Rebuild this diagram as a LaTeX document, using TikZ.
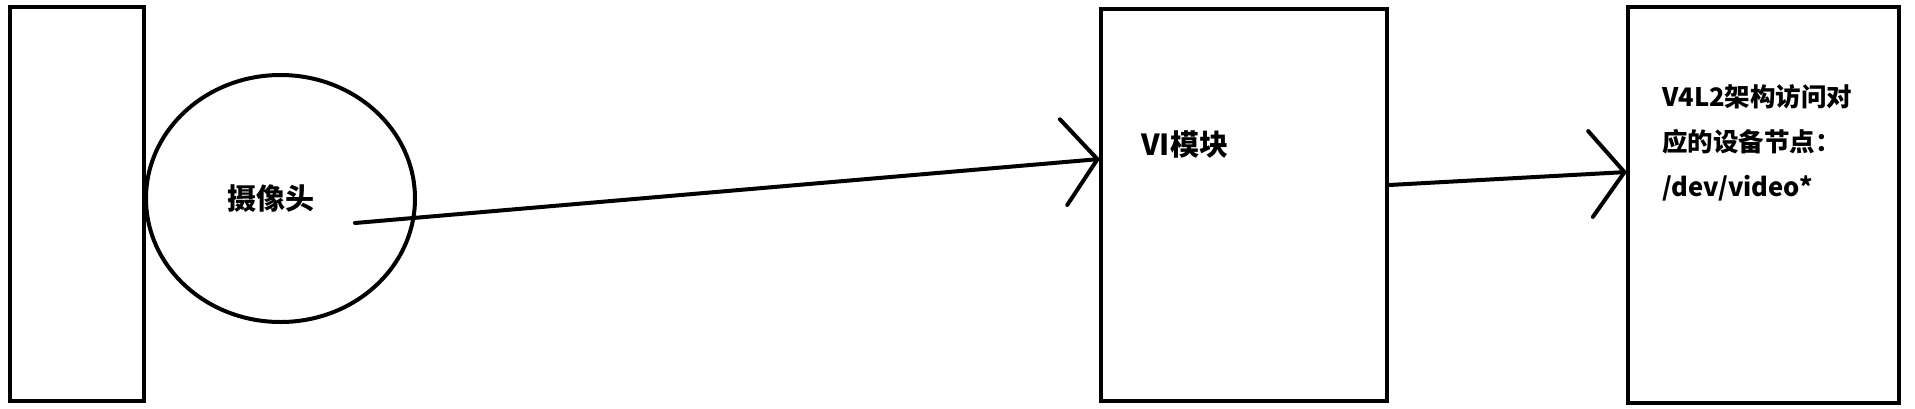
\documentclass[tikz,border=0pt]{standalone}
\usepackage{fontspec}
\setmainfont{Noto Sans CJK SC}
\usetikzlibrary{arrows.meta,shapes.geometric}
\tikzset{
  box/.style={draw, line width=4pt, inner sep=0pt},
  lbl/.style={inner sep=0pt, font=\bfseries\fontsize{29}{34}\selectfont},
  conn/.style={line width=4pt, line cap=round, -{Straight Barb[length=34pt,width=86pt,line cap=round]}},
}
\begin{document}
\begin{tikzpicture}[x=1pt,y=-1pt]
\useasboundingbox (0,0) rectangle (1915,408);
\fill[white] (0,0) rectangle (1915,408);
% left rectangle
\node[box, minimum width=134pt, minimum height=394pt] (lbox) at (77,204) {};
% camera ellipse
\node[box, ellipse, minimum width=269pt, minimum height=247pt] (cam) at (280.5,198.5) {};
\node[lbl] (camtxt) at (271,199) {摄像头};
% VI module box
\node[box, minimum width=286pt, minimum height=392pt] (vi) at (1244,205) {};
\node[lbl, anchor=west] (vitxt) at (1141,145) {VI模块};
% V4L2 box
\node[box, minimum width=271pt, minimum height=396pt] (v4l2) at (1763.5,205) {};
\node[inner sep=0pt, anchor=north west, align=left, font=\bfseries\fontsize{25.5}{45}\selectfont] (v4l2txt) at (1662,84) {V4L2架构访问对\\应的设备节点：\\/dev/video*};
% connectors
\coordinate (camout) at (355,223);
\coordinate (viin) at (1100,159);
\coordinate (viout) at (1389,185);
\coordinate (v4in) at (1627,172);
\draw[conn] (camout) -- (viin);
\draw[conn] (viout) -- (v4in);
\end{tikzpicture}
\end{document}
